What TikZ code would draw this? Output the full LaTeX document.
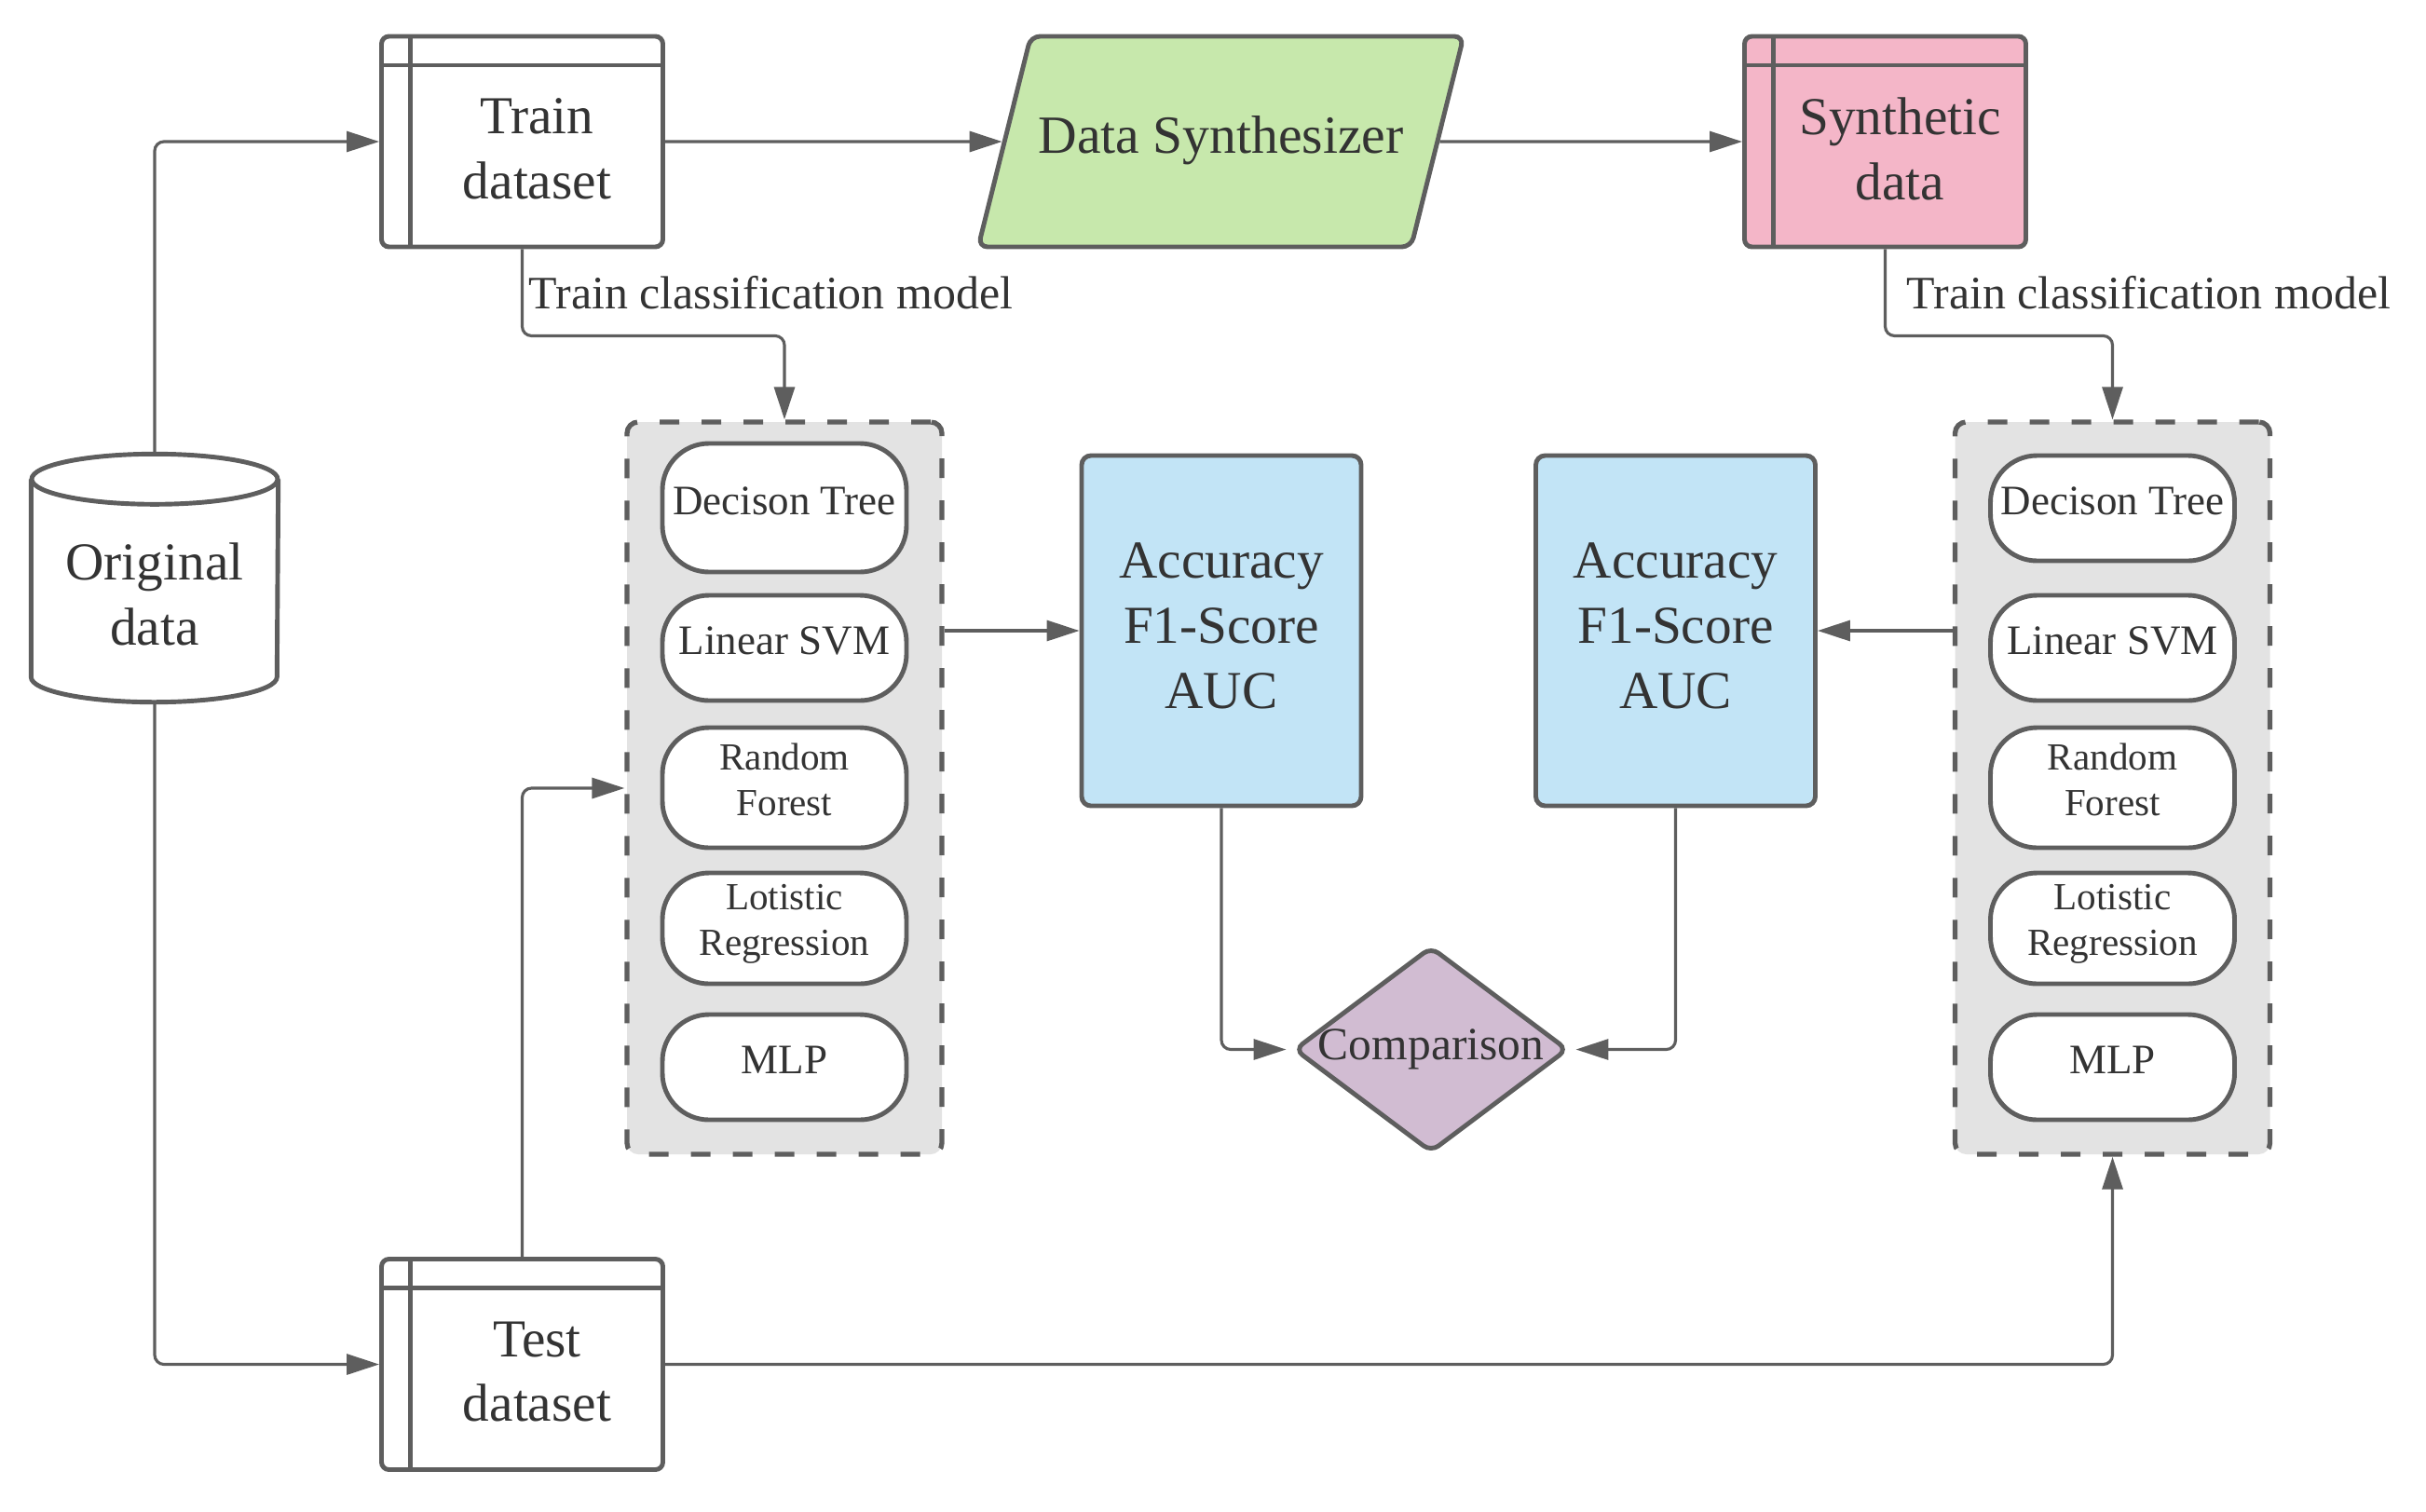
\documentclass[tikz,border=0pt]{standalone}
\usepackage{fontspec}
\setmainfont{Liberation Serif}
\usetikzlibrary{arrows.meta, positioning, shapes.geometric}
\definecolor{edge}{RGB}{94,94,94}
\definecolor{ink}{RGB}{51,51,51}
\definecolor{synthgreen}{RGB}{199,232,172}
\definecolor{synthpink}{RGB}{244,182,200}
\definecolor{metricblue}{RGB}{194,228,246}
\definecolor{comppurple}{RGB}{209,188,210}
\definecolor{panelgray}{RGB}{227,227,227}

\begin{document}
\begin{tikzpicture}[
  every node/.style={align=center, text=ink},
  >={Triangle[length=0.35cm, width=0.22cm]},
  conn/.style={->, draw=edge, line width=0.9pt, rounded corners=0.1cm},
  dbox/.style={draw=edge, line width=1.4pt, rounded corners=0.08cm, fill=white,
    minimum width=3.02cm, minimum height=2.26cm,
    path picture={\draw[edge, line width=1.4pt]
      ([yshift=-0.31cm]path picture bounding box.north west) -- ([yshift=-0.31cm]path picture bounding box.north east)
      ([xshift=0.31cm]path picture bounding box.north west) -- ([xshift=0.31cm]path picture bounding box.south west);}},
  dlabel/.style={font=\fontsize{16.3pt}{19.9pt}\selectfont, xshift=0.16cm, yshift=-0.08cm},
  metric/.style={draw=edge, line width=1.4pt, rounded corners=0.1cm, fill=metricblue,
    minimum width=3.0cm, minimum height=3.76cm, text depth=0.1cm, font=\fontsize{16.3pt}{19.9pt}\selectfont},
  panel/.style={draw=edge, line width=1.5pt, dash pattern=on 0.21cm off 0.24cm,
    rounded corners=0.12cm, fill=panelgray, minimum width=3.38cm, minimum height=7.86cm},
  model/.style={draw=edge, line width=1.4pt, rounded corners=0.5cm, fill=white,
    minimum width=2.62cm, minimum height=1.13cm, inner sep=1pt, text depth=0.15cm,
    font=\fontsize{12.8pt}{15.4pt}\selectfont},
  smallmodel/.style={model, text depth=0.18cm, font=\fontsize{11.7pt}{13.9pt}\selectfont},
  lbl/.style={font=\fontsize{14.2pt}{17pt}\selectfont, inner sep=0pt}
]
\useasboundingbox (0,0) rectangle (26.04,-16.22);

% data sources
\node[font=\fontsize{16.3pt}{19.9pt}\selectfont, minimum width=2.64cm, minimum height=2.65cm, inner sep=0pt] (orig) at (1.66,-6.205) {\rule{0pt}{21pt}Original\\data};
\draw[edge, line width=1.4pt] ([yshift=-0.27cm]orig.north) ellipse[x radius=1.32cm, y radius=0.27cm];
\draw[edge, line width=1.4pt] ([yshift=-0.27cm]orig.north west) -- ([yshift=0.27cm]orig.south west)
  arc[start angle=180, end angle=360, x radius=1.32cm, y radius=0.27cm] -- ([yshift=-0.27cm]orig.north east);

\node[dbox, label={[dlabel]center:Train\\dataset}] (train) at (5.605,-1.52) {};
\node[dbox, label={[dlabel]center:Test\\dataset}] (test) at (5.605,-14.645) {};
\node[trapezium, trapezium left angle=76, trapezium right angle=104, trapezium stretches body,
  draw=edge, line width=1.4pt, rounded corners=0.1cm, fill=synthgreen, minimum width=5.21cm,
  text height=0.37cm, text depth=0.12cm, inner xsep=0.05cm, inner ysep=0.885cm,
  font=\fontsize{16.4pt}{19.9pt}\selectfont] (synth) at (13.105,-1.52) {Data Synthesizer};
\node[dbox, fill=synthpink, label={[dlabel]center:Synthetic\\data}] (synthetic) at (20.235,-1.52) {};

% classifiers
\node[panel] (lpanel) at (8.42,-8.46) {};
\node[panel] (rpanel) at (22.675,-8.46) {};

\node[model, minimum height=1.38cm] (ldt) at (8.42,-5.45) {Decison Tree};
\node[model] (lsvm) at (8.42,-6.955) {Linear SVM};
\node[smallmodel, minimum height=1.29cm] (lrf) at (8.42,-8.455) {Random\\Forest};
\node[smallmodel, minimum height=1.19cm] (llr) at (8.42,-9.965) {Lotistic\\Regression};
\node[model] (lmlp) at (8.42,-11.455) {MLP};

\node[model] (rdt) at (22.675,-5.455) {Decison Tree};
\node[model] (rsvm) at (22.675,-6.955) {Linear SVM};
\node[smallmodel, minimum height=1.29cm] (rrf) at (22.675,-8.455) {Random\\Forest};
\node[smallmodel, minimum height=1.19cm] (rlr) at (22.675,-9.965) {Lotistic\\Regression};
\node[model] (rmlp) at (22.675,-11.455) {MLP};

% metrics
\node[metric] (lacc) at (13.11,-6.77) {Accuracy\\F1-Score\\AUC};
\node[metric] (racc) at (17.985,-6.77) {Accuracy\\F1-Score\\AUC};
\node[diamond, draw=edge, line width=1.4pt, rounded corners=0.1cm, fill=comppurple,
  minimum width=2.94cm, minimum height=2.21cm, aspect=1.33, inner sep=-0.2cm,
  font=\fontsize{14.1pt}{17pt}\selectfont] (comp) at (15.36,-11.265) {Comparison};

% connectors
\draw[conn] (orig.north) |- (train.west);
\draw[conn] (orig.south) |- (test.west);
\draw[conn] (train.east) -- (synth.west);
\draw[conn] (synth.east) -- (synthetic.west);
\draw[conn] (train.south) -- ++(0,-0.93) -| (lpanel.north);
\draw[conn] (synthetic.south) -- ++(0,-0.93) -| (rpanel.north);
\node[lbl, anchor=base west] (ltrainlbl) at ([shift={(0.065,-0.64)}]train.south) {Train classification model};
\node[lbl, anchor=base west] (rtrainlbl) at ([shift={(0.225,-0.64)}]synthetic.south) {Train classification model};
\draw[conn] (test.north) |- (lpanel.west);
\draw[conn] (test.east) -| (rpanel.south);
\draw[conn] (lpanel.east |- lacc.west) -- (lacc.west);
\draw[conn] (rpanel.west |- racc.east) -- (racc.east);
\draw[conn, shorten >=0.06cm] (lacc.south) |- (comp.west);
\draw[conn, shorten >=0.06cm] (racc.south) |- (comp.east);
\end{tikzpicture}
\end{document}
